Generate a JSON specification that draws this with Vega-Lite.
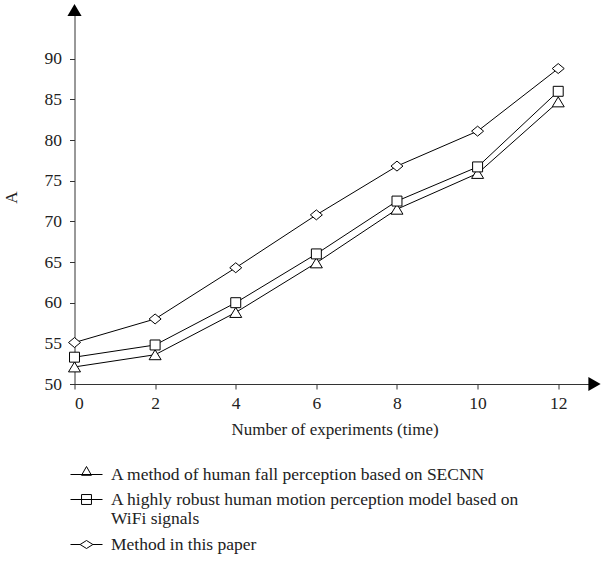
{
  "$schema": "https://vega.github.io/schema/vega-lite/v6.json",
  "width": 520,
  "height": 374,
  "autosize": {"type": "none"},
  "padding": {"left": 74.5, "top": 10, "right": 6.5, "bottom": 177},
  "background": "white",
  "config": {
    "view": {"stroke": null},
    "font": "Liberation Serif",
    "axis": {
      "grid": false,
      "domainColor": "#333333",
      "tickColor": "#333333",
      "labelColor": "#222222",
      "titleColor": "#222222",
      "labelFont": "Liberation Serif",
      "titleFont": "Liberation Serif",
      "labelFontSize": 17.5,
      "titleFontSize": 17,
      "titleFontWeight": "normal",
      "tickSize": 5
    },
    "legend": {
      "labelFont": "Liberation Serif",
      "labelFontSize": 17.5,
      "labelColor": "#222222"
    }
  },
  "datasets": {
    "series": [
      {"x": 0, "A": 52.1, "method": "A method of human fall perception based on SECNN"},
      {"x": 2, "A": 53.6, "method": "A method of human fall perception based on SECNN"},
      {"x": 4, "A": 58.8, "method": "A method of human fall perception based on SECNN"},
      {"x": 6, "A": 64.9, "method": "A method of human fall perception based on SECNN"},
      {"x": 8, "A": 71.5, "method": "A method of human fall perception based on SECNN"},
      {"x": 10, "A": 75.9, "method": "A method of human fall perception based on SECNN"},
      {"x": 12, "A": 84.7, "method": "A method of human fall perception based on SECNN"},
      {"x": 0, "A": 53.3, "method": "A highly robust human motion perception model based on WiFi signals"},
      {"x": 2, "A": 54.8, "method": "A highly robust human motion perception model based on WiFi signals"},
      {"x": 4, "A": 60.0, "method": "A highly robust human motion perception model based on WiFi signals"},
      {"x": 6, "A": 66.0, "method": "A highly robust human motion perception model based on WiFi signals"},
      {"x": 8, "A": 72.5, "method": "A highly robust human motion perception model based on WiFi signals"},
      {"x": 10, "A": 76.7, "method": "A highly robust human motion perception model based on WiFi signals"},
      {"x": 12, "A": 86.0, "method": "A highly robust human motion perception model based on WiFi signals"},
      {"x": 0, "A": 55.1, "method": "Method in this paper"},
      {"x": 2, "A": 58.0, "method": "Method in this paper"},
      {"x": 4, "A": 64.3, "method": "Method in this paper"},
      {"x": 6, "A": 70.8, "method": "Method in this paper"},
      {"x": 8, "A": 76.8, "method": "Method in this paper"},
      {"x": 10, "A": 81.1, "method": "Method in this paper"},
      {"x": 12, "A": 88.8, "method": "Method in this paper"}
    ]
  },
  "layer": [
    {
      "data": {"name": "series"},
      "mark": {"type": "line", "color": "black", "strokeWidth": 1},
      "encoding": {
        "x": {
          "field": "x", "type": "quantitative",
          "scale": {"domain": [0, 12.9], "nice": false, "zero": false},
          "axis": {"values": [0, 2, 4, 6, 8, 10, 12], "title": "Number of experiments (time)", "labelPadding": 5, "titlePadding": 10}
        },
        "y": {
          "field": "A", "type": "quantitative",
          "scale": {"domain": [50, 96], "nice": false, "zero": false},
          "axis": {"values": [50, 55, 60, 65, 70, 75, 80, 85, 90], "title": "A", "labelPadding": 8, "titlePadding": 24}
        },
        "detail": {"field": "method", "type": "nominal"}
      }
    },
    {
      "data": {"name": "series"},
      "mark": {"type": "point", "filled": true, "fill": "white", "stroke": "black", "strokeWidth": 1, "size": 144, "opacity": 1},
      "encoding": {
        "x": {"field": "x", "type": "quantitative"},
        "y": {"field": "A", "type": "quantitative"},
        "shape": {
          "field": "method", "type": "nominal",
          "scale": {
            "domain": ["A method of human fall perception based on SECNN", "A highly robust human motion perception model based on WiFi signals", "Method in this paper"],
            "range": ["M0,-0.83L1,0.83H-1Z", "M-0.83,-0.83H0.83V0.83H-0.83Z", "M-1,0L0,-0.83L1,0L0,0.83Z"]
          },
          "legend": null
        }
      }
    },
    {
      "data": {"name": "series"},
      "transform": [{"filter": "datum.x < 0"}],
      "mark": {"type": "point", "filled": false, "stroke": "black", "color": "black", "strokeWidth": 1, "size": 1024, "opacity": 1},
      "encoding": {
        "x": {"field": "x", "type": "quantitative"},
        "y": {"field": "A", "type": "quantitative"},
        "shape": {
          "field": "method", "type": "nominal",
          "scale": {
            "domain": ["A method of human fall perception based on SECNN", "A highly robust human motion perception model based on WiFi signals", "Method in this paper"],
            "range": ["M-1,0H1M0,-0.5L0.31,0.05H-0.31Z", "M-1,0H1M-0.31,-0.31H0.31V0.31H-0.31Z", "M-1,0H-0.4M0.4,0H1M-0.4,0L0,-0.25L0.4,0L0,0.25Z"]
          },
          "legend": {
            "title": null,
            "orient": "none",
            "legendX": -4.5,
            "legendY": 448,
            "direction": "vertical",
            "symbolSize": 1024,
            "symbolStrokeColor": "black",
            "symbolStrokeWidth": 1,
            "symbolOpacity": 1,
            "labelOffset": 8,
            "labelLimit": 600,
            "rowPadding": 0,
            "labelExpr": "datum.label == 'A highly robust human motion perception model based on WiFi signals' ? ['A highly robust human motion perception model based on', 'WiFi signals'] : datum.label",
            "encode": {"labels": {"update": {"lineHeight": {"value": 21.7}}}}
          }
        }
      }
    },
    {
      "data": {"values": [{}]},
      "mark": {"type": "point", "shape": "triangle-right", "filled": true, "color": "black", "size": 200, "opacity": 1, "clip": false},
      "encoding": {"x": {"datum": 12.9, "type": "quantitative"}, "y": {"datum": 50, "type": "quantitative"}}
    },
    {
      "data": {"values": [{}]},
      "mark": {"type": "point", "shape": "triangle-up", "filled": true, "color": "black", "size": 200, "opacity": 1, "clip": false},
      "encoding": {"x": {"datum": 0, "type": "quantitative"}, "y": {"datum": 96, "type": "quantitative"}}
    }
  ],
  "resolve": {"scale": {"shape": "independent"}, "legend": {"shape": "independent"}}
}
